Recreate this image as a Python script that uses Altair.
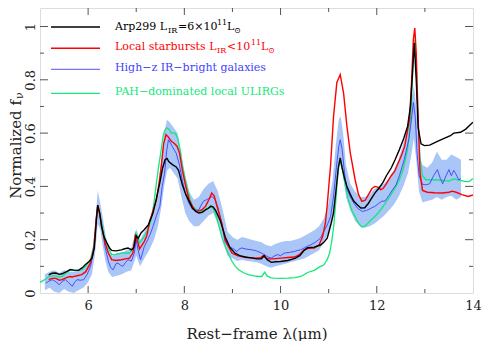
import altair as alt
import pandas as pd

# ---------------- data ----------------
arp_x = [5.18,5.25,5.33,5.40,5.46,5.55,5.63,5.70,5.80,5.88,5.94,6.02,6.08,6.13,6.17,6.20,6.24,6.28,6.33,6.39,6.45,6.49,6.58,6.69,6.76,6.83,6.90,6.95,7.00,7.04,7.10,7.17,7.25,7.35,7.42,7.49,7.55,7.60,7.64,7.68,7.76,7.83,7.88,7.96,8.03,8.10,8.17,8.24,8.30,8.37,8.44,8.50,8.55,8.60,8.65,8.75,8.85,8.95,9.05,9.15,9.26,9.40,9.50,9.60,9.66,9.72,9.81,9.90,10.00,10.15,10.30,10.40,10.49,10.56,10.70,10.83,10.90,10.97,11.05,11.10,11.15,11.20,11.24,11.28,11.33,11.38,11.45,11.52,11.60,11.67,11.75,11.82,11.89,11.96,12.05,12.13,12.20,12.30,12.38,12.47,12.56,12.64,12.70,12.74,12.78,12.82,12.86,12.92,12.99,13.10,13.26,13.40,13.53,13.60,13.74,13.85,13.98,14.00]
arp_y = [0.068,0.074,0.075,0.070,0.072,0.080,0.088,0.086,0.085,0.095,0.106,0.118,0.131,0.170,0.270,0.330,0.300,0.250,0.210,0.188,0.168,0.160,0.158,0.162,0.166,0.169,0.162,0.170,0.215,0.205,0.225,0.238,0.255,0.300,0.355,0.413,0.470,0.500,0.505,0.492,0.481,0.473,0.460,0.405,0.370,0.344,0.318,0.306,0.300,0.303,0.312,0.318,0.326,0.322,0.310,0.270,0.210,0.170,0.150,0.140,0.135,0.132,0.128,0.128,0.140,0.125,0.115,0.117,0.118,0.122,0.130,0.140,0.160,0.170,0.172,0.180,0.190,0.206,0.260,0.300,0.380,0.470,0.507,0.470,0.430,0.400,0.370,0.345,0.330,0.319,0.320,0.335,0.355,0.375,0.395,0.415,0.440,0.469,0.500,0.538,0.580,0.625,0.700,0.820,0.938,0.800,0.620,0.560,0.553,0.555,0.569,0.580,0.590,0.600,0.603,0.615,0.638,0.640]

sb_x = [5.18,5.25,5.33,5.40,5.46,5.55,5.62,5.67,5.75,5.87,5.95,6.05,6.12,6.17,6.20,6.24,6.28,6.35,6.42,6.49,6.58,6.69,6.78,6.86,6.93,6.98,7.02,7.07,7.12,7.17,7.22,7.28,7.35,7.42,7.48,7.52,7.57,7.62,7.67,7.73,7.80,7.85,7.90,7.96,8.03,8.10,8.17,8.24,8.30,8.37,8.44,8.51,8.57,8.62,8.68,8.78,8.85,8.90,8.99,9.10,9.19,9.30,9.47,9.58,9.64,9.69,9.74,9.85,10.01,10.15,10.29,10.40,10.49,10.58,10.70,10.80,10.87,10.93,10.97,11.04,11.10,11.17,11.24,11.31,11.38,11.45,11.55,11.62,11.69,11.76,11.83,11.90,11.96,12.02,12.08,12.13,12.20,12.30,12.37,12.45,12.52,12.58,12.64,12.68,12.72,12.76,12.79,12.82,12.86,12.90,12.95,13.05,13.20,13.36,13.50,13.57,13.65,13.77,13.90,14.00]
sb_y = [0.050,0.055,0.055,0.048,0.050,0.058,0.062,0.060,0.064,0.069,0.080,0.113,0.170,0.280,0.330,0.300,0.250,0.190,0.150,0.125,0.122,0.125,0.128,0.131,0.150,0.215,0.200,0.165,0.180,0.194,0.215,0.269,0.310,0.350,0.420,0.475,0.560,0.594,0.585,0.569,0.560,0.550,0.525,0.460,0.400,0.350,0.325,0.306,0.308,0.313,0.325,0.350,0.375,0.365,0.325,0.260,0.200,0.180,0.150,0.140,0.137,0.133,0.131,0.132,0.140,0.132,0.128,0.128,0.131,0.133,0.135,0.145,0.162,0.168,0.169,0.180,0.210,0.260,0.330,0.480,0.660,0.790,0.819,0.750,0.625,0.525,0.425,0.370,0.344,0.348,0.370,0.392,0.400,0.397,0.388,0.392,0.410,0.440,0.456,0.490,0.520,0.550,0.610,0.650,0.780,0.950,0.994,0.900,0.650,0.450,0.385,0.378,0.376,0.375,0.378,0.382,0.378,0.369,0.362,0.368]

hz_x = [5.12,5.19,5.26,5.33,5.40,5.47,5.53,5.60,5.67,5.72,5.77,5.84,5.91,5.98,6.05,6.12,6.17,6.20,6.24,6.30,6.35,6.42,6.47,6.52,6.58,6.62,6.67,6.72,6.78,6.83,6.90,6.96,7.00,7.04,7.09,7.13,7.17,7.24,7.30,7.35,7.42,7.49,7.54,7.59,7.63,7.67,7.72,7.78,7.83,7.90,7.96,8.03,8.10,8.17,8.24,8.30,8.35,8.40,8.46,8.52,8.58,8.64,8.70,8.78,8.85,8.92,8.99,9.05,9.09,9.14,9.19,9.28,9.40,9.50,9.60,9.68,9.74,9.81,9.88,9.94,10.00,10.08,10.18,10.29,10.36,10.42,10.50,10.56,10.63,10.72,10.83,10.90,10.97,11.04,11.10,11.16,11.21,11.24,11.28,11.33,11.38,11.45,11.52,11.60,11.70,11.79,11.89,11.96,12.03,12.10,12.17,12.25,12.32,12.40,12.47,12.52,12.57,12.62,12.67,12.72,12.76,12.80,12.84,12.88,12.95,13.02,13.10,13.18,13.26,13.32,13.37,13.44,13.50,13.55,13.60,13.65,13.70,13.75]
hz_y = [0.037,0.045,0.050,0.042,0.031,0.045,0.050,0.038,0.025,0.040,0.050,0.048,0.050,0.070,0.100,0.160,0.270,0.320,0.295,0.240,0.175,0.120,0.095,0.087,0.110,0.112,0.105,0.100,0.115,0.125,0.120,0.150,0.200,0.160,0.125,0.150,0.175,0.200,0.225,0.250,0.290,0.325,0.400,0.450,0.530,0.575,0.560,0.540,0.525,0.480,0.420,0.370,0.335,0.315,0.310,0.312,0.330,0.345,0.350,0.355,0.362,0.350,0.320,0.260,0.190,0.175,0.169,0.162,0.155,0.165,0.169,0.165,0.162,0.158,0.150,0.142,0.135,0.131,0.140,0.144,0.140,0.150,0.152,0.156,0.160,0.162,0.170,0.176,0.181,0.190,0.206,0.231,0.255,0.287,0.360,0.470,0.550,0.575,0.540,0.450,0.390,0.360,0.338,0.318,0.306,0.310,0.319,0.325,0.335,0.344,0.345,0.365,0.385,0.406,0.440,0.470,0.500,0.540,0.580,0.650,0.715,0.660,0.520,0.440,0.408,0.406,0.410,0.440,0.463,0.430,0.410,0.440,0.463,0.440,0.460,0.445,0.425,0.430]

pah_x = [5.00,5.10,5.19,5.30,5.40,5.46,5.55,5.62,5.67,5.77,5.87,5.95,6.05,6.12,6.17,6.20,6.24,6.30,6.35,6.42,6.49,6.58,6.69,6.78,6.86,6.94,6.99,7.03,7.07,7.12,7.17,7.25,7.32,7.37,7.42,7.47,7.52,7.56,7.60,7.64,7.68,7.73,7.78,7.81,7.86,7.92,7.96,8.02,8.07,8.12,8.17,8.24,8.32,8.40,8.47,8.55,8.60,8.66,8.72,8.78,8.85,8.92,8.99,9.06,9.13,9.23,9.33,9.45,9.54,9.61,9.67,9.72,9.80,9.88,10.00,10.15,10.30,10.42,10.50,10.56,10.70,10.83,10.90,10.97,11.02,11.07,11.11,11.14,11.18,11.21,11.24,11.27,11.31,11.36,11.41,11.48,11.55,11.62,11.69,11.76,11.85,11.96,12.05,12.15,12.23,12.30,12.40,12.47,12.55,12.64,12.70,12.74,12.78,12.82,12.86,12.90,12.95,13.02,13.20,13.35,13.50,13.60,13.70,13.85,13.92,14.00]
pah_y = [0.040,0.050,0.062,0.065,0.060,0.062,0.075,0.085,0.087,0.085,0.087,0.100,0.125,0.180,0.280,0.325,0.305,0.250,0.206,0.170,0.144,0.145,0.150,0.150,0.150,0.170,0.225,0.210,0.188,0.200,0.213,0.240,0.281,0.340,0.413,0.480,0.538,0.590,0.613,0.620,0.615,0.600,0.600,0.600,0.582,0.530,0.475,0.425,0.388,0.350,0.325,0.313,0.308,0.310,0.318,0.322,0.318,0.290,0.250,0.210,0.175,0.145,0.119,0.100,0.087,0.076,0.069,0.064,0.062,0.062,0.078,0.064,0.057,0.056,0.055,0.056,0.058,0.062,0.070,0.077,0.085,0.100,0.105,0.125,0.150,0.200,0.260,0.325,0.420,0.475,0.500,0.480,0.438,0.390,0.350,0.310,0.287,0.262,0.248,0.252,0.268,0.287,0.305,0.330,0.350,0.370,0.400,0.425,0.465,0.538,0.640,0.800,0.950,0.850,0.650,0.500,0.440,0.425,0.425,0.423,0.420,0.428,0.424,0.418,0.418,0.430]

band_x = [5.10,5.20,5.30,5.40,5.50,5.60,5.70,5.80,5.90,6.00,6.08,6.14,6.20,6.25,6.30,6.36,6.42,6.50,6.60,6.70,6.80,6.90,7.00,7.08,7.17,7.27,7.37,7.45,7.52,7.58,7.64,7.70,7.78,7.86,7.94,8.02,8.10,8.20,8.30,8.40,8.50,8.60,8.70,8.80,8.90,9.00,9.10,9.20,9.30,9.40,9.50,9.60,9.70,9.80,9.90,10.00,10.10,10.20,10.30,10.40,10.50,10.60,10.70,10.80,10.90,11.00,11.08,11.15,11.21,11.25,11.30,11.36,11.45,11.55,11.65,11.75,11.85,11.95,12.05,12.15,12.25,12.35,12.45,12.55,12.65,12.72,12.77,12.82,12.88,12.95,13.05,13.15,13.25,13.35,13.45,13.55,13.65,13.75]
band_lo = [0.010,0.020,0.005,0.000,0.015,0.005,0.000,0.010,0.020,0.040,0.070,0.140,0.260,0.240,0.180,0.120,0.080,0.060,0.065,0.070,0.080,0.085,0.140,0.100,0.130,0.160,0.200,0.250,0.320,0.400,0.460,0.470,0.450,0.430,0.360,0.300,0.270,0.250,0.250,0.270,0.290,0.300,0.260,0.190,0.140,0.130,0.120,0.125,0.120,0.118,0.115,0.110,0.100,0.095,0.100,0.105,0.110,0.115,0.120,0.125,0.130,0.140,0.150,0.160,0.190,0.230,0.280,0.380,0.470,0.480,0.440,0.360,0.310,0.270,0.250,0.245,0.250,0.260,0.275,0.290,0.310,0.330,0.360,0.400,0.450,0.520,0.580,0.500,0.380,0.340,0.345,0.350,0.360,0.350,0.360,0.365,0.350,0.360]
band_hi = [0.070,0.080,0.085,0.075,0.085,0.080,0.080,0.085,0.090,0.110,0.140,0.240,0.385,0.340,0.290,0.220,0.170,0.140,0.150,0.150,0.160,0.170,0.240,0.200,0.230,0.260,0.300,0.380,0.500,0.600,0.650,0.640,0.620,0.600,0.520,0.440,0.380,0.350,0.360,0.390,0.410,0.420,0.380,0.310,0.230,0.210,0.200,0.210,0.205,0.200,0.195,0.190,0.180,0.175,0.185,0.190,0.195,0.195,0.200,0.205,0.215,0.225,0.235,0.250,0.280,0.340,0.420,0.560,0.650,0.663,0.600,0.480,0.410,0.380,0.360,0.360,0.370,0.390,0.400,0.410,0.430,0.460,0.500,0.560,0.630,0.720,0.780,0.700,0.520,0.480,0.470,0.490,0.530,0.500,0.500,0.520,0.510,0.500]

x_labels = [6, 8, 10, 12, 14]
x_minor = [7, 9, 11, 13]
y_labels = [0, 0.2, 0.4, 0.6, 0.8, 1.0]
y_minor = [0.1, 0.3, 0.5, 0.7, 0.9]

legend_colors = ["#000000", "#ff0000", "#3f3fff", "#14e87a"]

# ---------------- layout ----------------
W, H = 433, 285
PAD_L = 32
YMAX = 1.0694
FONT = "DejaVu Serif"
FRAME = "#555555"
TXT = "#222222"

xs = alt.Scale(domain=[5, 14], nice=False, zero=False)
ys = alt.Scale(domain=[0, YMAX], nice=False, zero=False)

xaxis = alt.Axis(values=x_labels, format="d", title="Rest\u2212frame \u03bb(\u03bcm)",
                 domain=False, ticks=False, grid=False, labelFlush=False,
                 labelFont=FONT, labelFontSize=13, labelColor=TXT, labelPadding=6,
                 titleFont=FONT, titleFontSize=15, titleFontWeight="normal",
                 titleColor=TXT, titlePadding=14)
yaxis = alt.Axis(values=y_labels, format=".1~f", title=None,
                 domain=False, ticks=False, grid=False, labelFlush=False,
                 labelFont=FONT, labelFontSize=13, labelColor=TXT,
                 labelAngle=270, labelAlign="center", labelBaseline="middle",
                 labelPadding=10)

def X(f):
    return alt.X(f, type="quantitative", scale=xs, axis=xaxis)

def Y(f):
    return alt.Y(f, type="quantitative", scale=ys, axis=yaxis)

band_df = pd.DataFrame({"x": band_x, "lo": band_lo, "hi": band_hi})
band = alt.Chart(band_df).mark_area(color="#a9c6f6", opacity=1, clip=True).encode(
    x=X("x"), y=Y("lo"), y2="hi")

def line(xv, yv, color, sw):
    df = pd.DataFrame({"x": xv, "y": yv})
    return alt.Chart(df).mark_line(color=color, strokeWidth=sw, clip=True).encode(
        x=X("x"), y=Y("y"))

l_pah = line(pah_x, pah_y, legend_colors[3], 1.3)
l_hz = line(hz_x, hz_y, legend_colors[2], 0.9)
l_sb = line(sb_x, sb_y, legend_colors[1], 1.4)
l_arp = line(arp_x, arp_y, legend_colors[0], 1.4)

# ticks pointing inward on all four sides
xmaj = pd.DataFrame({"v": x_labels[:-1]})
xmin = pd.DataFrame({"v": x_minor})
ymaj = pd.DataFrame({"v": y_labels[1:]})
ymin = pd.DataFrame({"v": y_minor})
tick_layers = []
for df, L in [(xmaj, 7), (xmin, 4)]:
    tick_layers.append(alt.Chart(df).mark_rule(color=FRAME, strokeWidth=1).encode(
        x=X("v"), y=alt.value(H), y2=alt.value(H - L)))
    tick_layers.append(alt.Chart(df).mark_rule(color=FRAME, strokeWidth=1).encode(
        x=X("v"), y=alt.value(0), y2=alt.value(L)))
for df, L in [(ymaj, 8), (ymin, 4)]:
    tick_layers.append(alt.Chart(df).mark_rule(color=FRAME, strokeWidth=1).encode(
        y=Y("v"), x=alt.value(0), x2=alt.value(L)))
    tick_layers.append(alt.Chart(df).mark_rule(color=FRAME, strokeWidth=1).encode(
        y=Y("v"), x=alt.value(W), x2=alt.value(W - L)))

one = pd.DataFrame({"k": [0]})

def txt(s, x, y, color, size, angle=0, align="left", baseline="alphabetic"):
    return alt.Chart(one).mark_text(text=s, color=color, fontSize=size, font=FONT,
                                    angle=angle, align=align, baseline=baseline).encode(
        x=alt.value(x), y=alt.value(y))

# legend (page pixel x positions converted to plot coordinates)
X0 = 8 + PAD_L
leg = []
line_ys = [19, 40.3, 61.3, 85.3]
base_ys = [21.5, 42, 63, 86.5]
for c, ly, sw in zip(legend_colors, line_ys, [1.4, 1.4, 0.9, 1.3]):
    leg.append(alt.Chart(one).mark_rule(color=c, strokeWidth=sw).encode(
        x=alt.value(51 - X0), x2=alt.value(100 - X0), y=alt.value(ly)))

def row(pieces, by, color):
    out = []
    for s, x, kind in pieces:
        if kind == "n":
            out.append(txt(s, x - X0, by, color, 11))
        elif kind == "sub":
            out.append(txt(s, x - X0, by + 3, color, 8))
        else:
            out.append(txt(s, x - X0, by - 5, color, 8))
    return out

leg += row([("Arp299 L", 115, "n"), ("IR", 168, "sub"), ("=6\u00d710", 178, "n"),
            ("11", 217, "sup"), ("L", 227, "n"), ("\u2299", 234, "sub")], base_ys[0], legend_colors[0])
leg += row([("Local starbursts L", 115, "n"), ("IR", 217, "sub"), ("<10", 227, "n"),
            ("11", 251, "sup"), ("L", 261, "n"), ("\u2299", 268, "sub")], base_ys[1], legend_colors[1])
leg += row([("High\u2212z IR\u2212bright galaxies", 115, "n")], base_ys[2], legend_colors[2])
leg += row([("PAH\u2212dominated local ULIRGs", 115, "n")], base_ys[3], legend_colors[3])

# y-axis title with subscript nu
ytitle = [
    txt("Normalized f", -24, 92, TXT, 15, angle=270, align="right", baseline="middle"),
    txt("\u03bd", -20, 91, TXT, 11, angle=270, align="left", baseline="middle"),
]

chart = alt.layer(band, l_pah, l_hz, l_sb, l_arp, *tick_layers, *leg, *ytitle).properties(
    width=W, height=H,
    autosize=alt.AutoSizeParams(type="none"),
    padding={"left": PAD_L, "top": 0, "right": 9, "bottom": 48},
).configure_view(stroke=FRAME, strokeWidth=1).configure(background="white")

chart.save("out.html", embed_options={"renderer": "svg", "actions": False})
